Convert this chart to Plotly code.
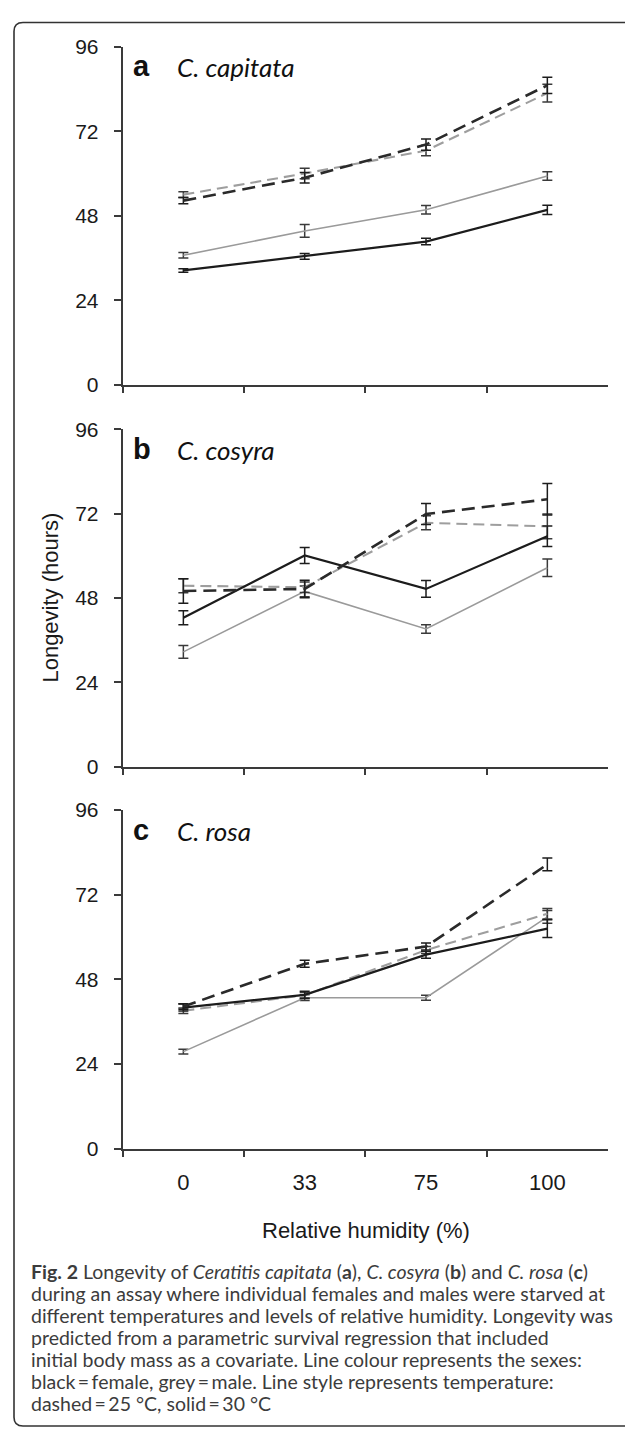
import plotly.graph_objects as go

# page body has an 8px default margin; the figure is sized to fit inside
OFF = 8
W, H = 633 - OFF, 1441 - OFF

# ---------------- data ----------------
rh_labels = ["0", "33", "75", "100"]
species = ["C. capitata", "C. cosyra", "C. rosa"]
panel_letters = ["a", "b", "c"]

# C. capitata (a)
a_f25 = [52.3, 58.8, 68.2, 85.0]
a_f25_err = [0.9, 1.5, 1.6, 2.3]
a_m25 = [54.0, 60.0, 66.5, 82.8]
a_m25_err = [0.8, 1.5, 1.5, 2.5]
a_f30 = [32.5, 36.5, 40.7, 49.7]
a_f30_err = [0.5, 0.8, 0.9, 1.3]
a_m30 = [36.8, 43.7, 49.7, 59.3]
a_m30_err = [0.8, 1.8, 1.2, 1.2]

# C. cosyra (b)
b_f25 = [50.0, 50.6, 71.9, 76.1]
b_f25_err = [3.5, 2.5, 3.0, 4.5]
b_m25 = [51.5, 51.1, 69.4, 68.4]
b_m25_err = [2.0, 1.5, 2.0, 3.5]
b_f30 = [42.4, 60.1, 50.6, 65.6]
b_f30_err = [2.0, 2.3, 2.4, 2.9]
b_m30 = [32.7, 49.9, 39.2, 56.6]
b_m30_err = [1.8, 1.5, 1.2, 2.5]

# C. rosa (c)
c_f25 = [40.3, 52.4, 57.3, 80.6]
c_f25_err = [0.8, 1.0, 1.0, 1.8]
c_m25 = [39.1, 43.5, 56.3, 66.6]
c_m25_err = [0.8, 0.8, 1.0, 1.5]
c_f30 = [40.0, 43.6, 55.0, 62.4]
c_f30_err = [1.0, 1.0, 1.0, 2.5]
c_m30 = [27.5, 42.8, 42.8, 65.7]
c_m30_err = [0.7, 0.8, 0.7, 1.8]

y_ticks = [0, 24, 48, 72, 96]

caption_lines = [
    "<b>Fig. 2</b> Longevity of <i>Ceratitis capitata</i> (<b>a</b>), <i>C. cosyra</i> (<b>b</b>) and <i>C. rosa</i> (<b>c</b>)",
    "during an assay where individual females and males were starved at",
    "different temperatures and levels of relative humidity. Longevity was",
    "predicted from a parametric survival regression that included",
    "initial body mass as a covariate. Line colour represents the sexes:",
    "black\u2009=\u2009female, grey\u2009=\u2009male. Line style represents temperature:",
    "dashed\u2009=\u200925 \u00b0C, solid\u2009=\u200930 \u00b0C",
]

panels = [
    dict(f25=a_f25, f25e=a_f25_err, m25=a_m25, m25e=a_m25_err,
         f30=a_f30, f30e=a_f30_err, m30=a_m30, m30e=a_m30_err),
    dict(f25=b_f25, f25e=b_f25_err, m25=b_m25, m25e=b_m25_err,
         f30=b_f30, f30e=b_f30_err, m30=b_m30, m30e=b_m30_err),
    dict(f25=c_f25, f25e=c_f25_err, m25=c_m25, m25e=c_m25_err,
         f30=c_f30, f30e=c_f30_err, m30=c_m30, m30e=c_m30_err),
]

# ---------------- layout helpers (page pixel -> paper) ----------------
def px(x):
    return (x - OFF) / W

def py(y):
    return 1 - (y - OFF) / H

plot_left, plot_right = 122.7, 608.0
panel_px = [(35, 379), (424, 767), (811, 1155)]

AX_FONT = "Liberation Sans, Arial, sans-serif"
CAP_FONT = "Lato, Noto Sans, sans-serif"
AXIS_COL = "#3a3a3a"

fig = go.Figure()

styles = [
    # key, color, dash, width, errcolor
    ("m30", "#9a9a9a", "solid", 1.6, "#3a3a3a"),
    ("m25", "#9e9e9e", "11px,6px", 2.1, "#3a3a3a"),
    ("f30", "#1c1c1c", "solid", 2.2, "#1c1c1c"),
    ("f25", "#2a2a2a", "13px,7px", 2.6, "#1c1c1c"),
]

for i, p in enumerate(panels):
    xa = "x" if i == 0 else f"x{i+1}"
    ya = "y" if i == 0 else f"y{i+1}"
    for key, col, dash, w, ecol in styles:
        fig.add_trace(go.Scatter(
            x=rh_labels, y=p[key], xaxis=xa, yaxis=ya,
            mode="lines",
            line=dict(color=col, dash=dash, width=w),
            error_y=dict(type="data", array=p[key + "e"], visible=True,
                         color=ecol, thickness=1.5, width=5),
            showlegend=False, hoverinfo="skip",
        ))

    top, bot = panel_px[i]
    xkey = "xaxis" if i == 0 else f"xaxis{i+1}"
    ykey = "yaxis" if i == 0 else f"yaxis{i+1}"
    fig.layout[xkey] = dict(
        domain=[px(plot_left), px(plot_right)],
        anchor=ya,
        type="category",
        categoryorder="array", categoryarray=rh_labels,
        range=[-0.5, 3.5],
        tickson="boundaries",
        ticks="outside", ticklen=6, tickwidth=1.8, tickcolor=AXIS_COL,
        showline=True, linecolor=AXIS_COL, linewidth=2,
        showgrid=False, zeroline=False,
        showticklabels=(i == 2),
        tickfont=dict(family=AX_FONT, size=22, color="#1a1a1a"),
        ticklabelstandoff=13,
        fixedrange=True,
    )
    fig.layout[ykey] = dict(
        domain=[py(bot), py(top)],
        anchor=xa,
        range=[0, 96],
        tickvals=y_ticks,
        ticks="outside", ticklen=7, tickwidth=1.8, tickcolor=AXIS_COL,
        showline=True, linecolor=AXIS_COL, linewidth=2,
        showgrid=False, zeroline=False,
        tickfont=dict(family=AX_FONT, size=21, color="#1a1a1a"),
        ticklabelstandoff=11,
        fixedrange=True,
    )

annotations = []
for i in range(3):
    top, _ = panel_px[i]
    annotations.append(dict(
        x=px(131), y=py(top + 20), xref="paper", yref="paper",
        xanchor="left", yanchor="middle", showarrow=False,
        text=f"<b>{panel_letters[i]}</b>",
        font=dict(family=AX_FONT, size=29, color="#111111"),
    ))
    annotations.append(dict(
        x=px(175), y=py(top + 21), xref="paper", yref="paper",
        xanchor="left", yanchor="middle", showarrow=False,
        text=f"<i>{species[i]}</i>",
        font=dict(family=CAP_FONT, size=26, color="#111111"),
    ))

annotations.append(dict(
    x=px(51), y=py(595), xref="paper", yref="paper",
    xanchor="center", yanchor="middle", showarrow=False, textangle=-90,
    text="Longevity (hours)",
    font=dict(family=AX_FONT, size=22, color="#1a1a1a"),
))
annotations.append(dict(
    x=px(366), y=py(1238), xref="paper", yref="paper",
    xanchor="center", yanchor="middle", showarrow=False,
    text="Relative humidity (%)",
    font=dict(family=AX_FONT, size=22, color="#1a1a1a"),
))

for k, line in enumerate(caption_lines):
    annotations.append(dict(
        x=px(29), y=py(1280 + 22.3 * k), xref="paper", yref="paper",
        xanchor="left", yanchor="middle", showarrow=False, align="left",
        text=line,
        font=dict(family=CAP_FONT, size=19.5, color="#3c3c3c"),
    ))

# outer frame (open on the right, rounded left corners)
fl, ft, fb, r = 14.0, 10.5, 1437.0, 9.0
path = (f"M {px(640)},{py(ft)} L {px(fl + r)},{py(ft)} "
        f"Q {px(fl)},{py(ft)} {px(fl)},{py(ft + r)} "
        f"L {px(fl)},{py(fb - r)} Q {px(fl)},{py(fb)} {px(fl + r)},{py(fb)} "
        f"L {px(640)},{py(fb)}")

fig.update_layout(
    width=W, height=H,
    margin=dict(l=0, r=0, t=0, b=0),
    paper_bgcolor="white", plot_bgcolor="white",
    annotations=annotations,
    shapes=[dict(type="path", xref="paper", yref="paper", path=path,
                 line=dict(color="#333333", width=1.6))],
)

fig.write_html("out.html")
